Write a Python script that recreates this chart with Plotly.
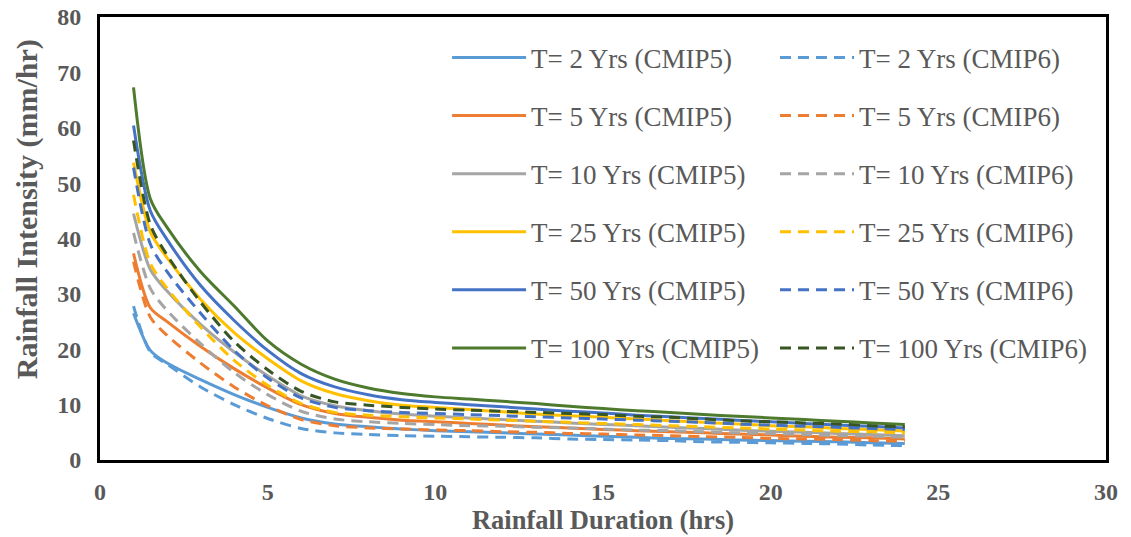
import plotly.graph_objects as go

# Rainfall duration (hours)
duration = [1, 1.5, 2, 3, 4, 5, 6, 7, 8, 9, 10, 11, 12, 13, 14, 15, 16, 17, 18, 19, 20, 21, 22, 23, 24]

# Rainfall intensity (mm/hr) for each return period, CMIP5
cmip5_t2 = [26.5, 19.8, 17.5, 14.5, 11.8, 9.5, 7.6, 6.5, 6.0, 5.6, 5.3, 5.1, 4.9, 4.7, 4.5, 4.3, 4.1, 3.9, 3.8, 3.6, 3.5, 3.4, 3.3, 3.1, 3.0]
cmip5_t5 = [37.3, 27.5, 25.0, 20.5, 16.5, 13.0, 10.0, 8.4, 7.7, 7.2, 6.9, 6.6, 6.3, 6.0, 5.8, 5.5, 5.3, 5.1, 4.9, 4.7, 4.5, 4.3, 4.1, 4.0, 3.8]
cmip5_t10 = [44.5, 34.4, 30.5, 24.5, 19.5, 15.2, 11.6, 9.8, 8.9, 8.3, 7.9, 7.6, 7.3, 7.0, 6.7, 6.4, 6.2, 5.9, 5.7, 5.4, 5.2, 5.0, 4.8, 4.6, 4.4]
cmip5_t25 = [53.7, 41.2, 36.5, 29.0, 23.0, 18.3, 14.3, 12.0, 10.7, 9.9, 9.5, 9.1, 8.7, 8.3, 8.0, 7.7, 7.4, 7.1, 6.8, 6.5, 6.2, 6.0, 5.7, 5.5, 5.2]
cmip5_t50 = [60.4, 45.0, 39.8, 31.5, 25.2, 19.8, 15.6, 13.2, 11.8, 10.9, 10.4, 10.0, 9.6, 9.2, 8.8, 8.5, 8.1, 7.8, 7.5, 7.2, 6.9, 6.6, 6.3, 6.1, 5.8]
cmip5_t100 = [67.3, 47.2, 42.0, 34.0, 27.8, 21.5, 17.3, 14.6, 13.0, 12.0, 11.4, 11.0, 10.6, 10.2, 9.7, 9.3, 8.9, 8.6, 8.2, 7.9, 7.6, 7.3, 7.0, 6.7, 6.4]

# Rainfall intensity (mm/hr) for each return period, CMIP6
cmip6_t2 = [27.8, 19.5, 17.3, 13.2, 10.0, 7.5, 5.7, 4.9, 4.6, 4.4, 4.3, 4.2, 4.1, 4.0, 3.8, 3.7, 3.6, 3.5, 3.3, 3.2, 3.1, 3.0, 2.9, 2.7, 2.6]
cmip6_t5 = [35.8, 25.8, 22.5, 17.5, 13.2, 9.8, 7.3, 6.2, 5.8, 5.6, 5.4, 5.3, 5.1, 5.0, 4.8, 4.7, 4.5, 4.4, 4.2, 4.1, 3.9, 3.8, 3.7, 3.5, 3.4]
cmip6_t10 = [41.0, 31.0, 27.0, 21.0, 15.8, 11.8, 8.8, 7.4, 6.9, 6.6, 6.4, 6.2, 6.1, 5.9, 5.8, 5.6, 5.4, 5.3, 5.1, 4.9, 4.8, 4.6, 4.4, 4.3, 4.1]
cmip6_t25 = [47.9, 35.5, 31.0, 24.0, 18.0, 13.5, 10.2, 8.6, 8.1, 7.8, 7.6, 7.4, 7.2, 7.0, 6.8, 6.6, 6.4, 6.2, 6.0, 5.8, 5.6, 5.4, 5.2, 5.1, 4.9]
cmip6_t50 = [52.8, 39.0, 34.0, 26.5, 19.8, 14.8, 11.2, 9.5, 8.9, 8.6, 8.4, 8.2, 8.0, 7.8, 7.6, 7.4, 7.2, 7.0, 6.8, 6.5, 6.3, 6.1, 5.9, 5.7, 5.5]
cmip6_t100 = [57.7, 42.5, 37.0, 28.5, 21.4, 16.3, 12.4, 10.5, 9.9, 9.5, 9.2, 9.0, 8.8, 8.6, 8.4, 8.2, 7.9, 7.7, 7.4, 7.1, 6.9, 6.7, 6.5, 6.2, 6.0]

return_periods = ["2", "5", "10", "25", "50", "100"]
cmip5_series = [cmip5_t2, cmip5_t5, cmip5_t10, cmip5_t25, cmip5_t50, cmip5_t100]
cmip6_series = [cmip6_t2, cmip6_t5, cmip6_t10, cmip6_t25, cmip6_t50, cmip6_t100]

cmip5_colors = ["#5B9BD5", "#ED7D31", "#A5A5A5", "#FFC000", "#4472C4", "#4E7A2E"]
cmip6_colors = ["#5B9BD5", "#ED7D31", "#A5A5A5", "#FFC000", "#4472C4", "#375623"]

SERIF = "Times New Roman, Liberation Serif, serif"
TEXT_GREY = "#595959"

fig = go.Figure()
for rp, y5, c5 in zip(return_periods, cmip5_series, cmip5_colors):
    fig.add_trace(go.Scatter(
        x=duration, y=y5, mode="lines", name=f"T= {rp} Yrs (CMIP5)",
        legend="legend", legendgroup=f"cmip5_{rp}",
        line=dict(color=c5, width=3, shape="spline", smoothing=0.8),
    ))
for rp, y6, c6 in zip(return_periods, cmip6_series, cmip6_colors):
    fig.add_trace(go.Scatter(
        x=duration, y=y6, mode="lines", name=f"T= {rp} Yrs (CMIP6)",
        legend="legend2", legendgroup=f"cmip6_{rp}",
        line=dict(color=c6, width=3, dash="11px,7px", shape="spline", smoothing=0.8),
    ))

legend_style = dict(
    orientation="v", yanchor="top", xanchor="left", y=0.963,
    itemwidth=74, tracegroupgap=20,
    font=dict(family=SERIF, size=27, color=TEXT_GREY),
    bgcolor="rgba(0,0,0,0)",
)

fig.update_layout(
    width=1131, height=537,
    margin=dict(l=100, r=25, t=17, b=77),
    paper_bgcolor="white", plot_bgcolor="white",
    font=dict(family=SERIF, color=TEXT_GREY),
    legend=dict(x=0.345, **legend_style),
    legend2=dict(x=0.671, **legend_style),
    xaxis=dict(
        range=[0, 30], dtick=5, showgrid=False, zeroline=False,
        showline=True, mirror=True, linecolor="black", linewidth=3,
        ticks="", ticklabelstandoff=8, automargin=False,
        tickfont=dict(family=SERIF, size=24, color=TEXT_GREY, weight="bold"),
        title=dict(text="<b>Rainfall Duration (hrs)</b>", standoff=2,
                   font=dict(family=SERIF, size=26.5, color=TEXT_GREY)),
    ),
    yaxis=dict(
        range=[0, 80], dtick=10, showgrid=False, zeroline=False,
        showline=True, mirror=True, linecolor="black", linewidth=3,
        ticks="", ticklabelstandoff=11, automargin=False,
        tickfont=dict(family=SERIF, size=24, color=TEXT_GREY, weight="bold"),
    ),
    annotations=[dict(
        text="<b>Rainfall Intensity (mm/hr)</b>", textangle=-90,
        xref="paper", yref="paper", x=-0.073, y=0.565,
        xanchor="center", yanchor="middle", showarrow=False,
        font=dict(family=SERIF, size=30, color=TEXT_GREY),
    )],
)

fig.write_html("out.html")
